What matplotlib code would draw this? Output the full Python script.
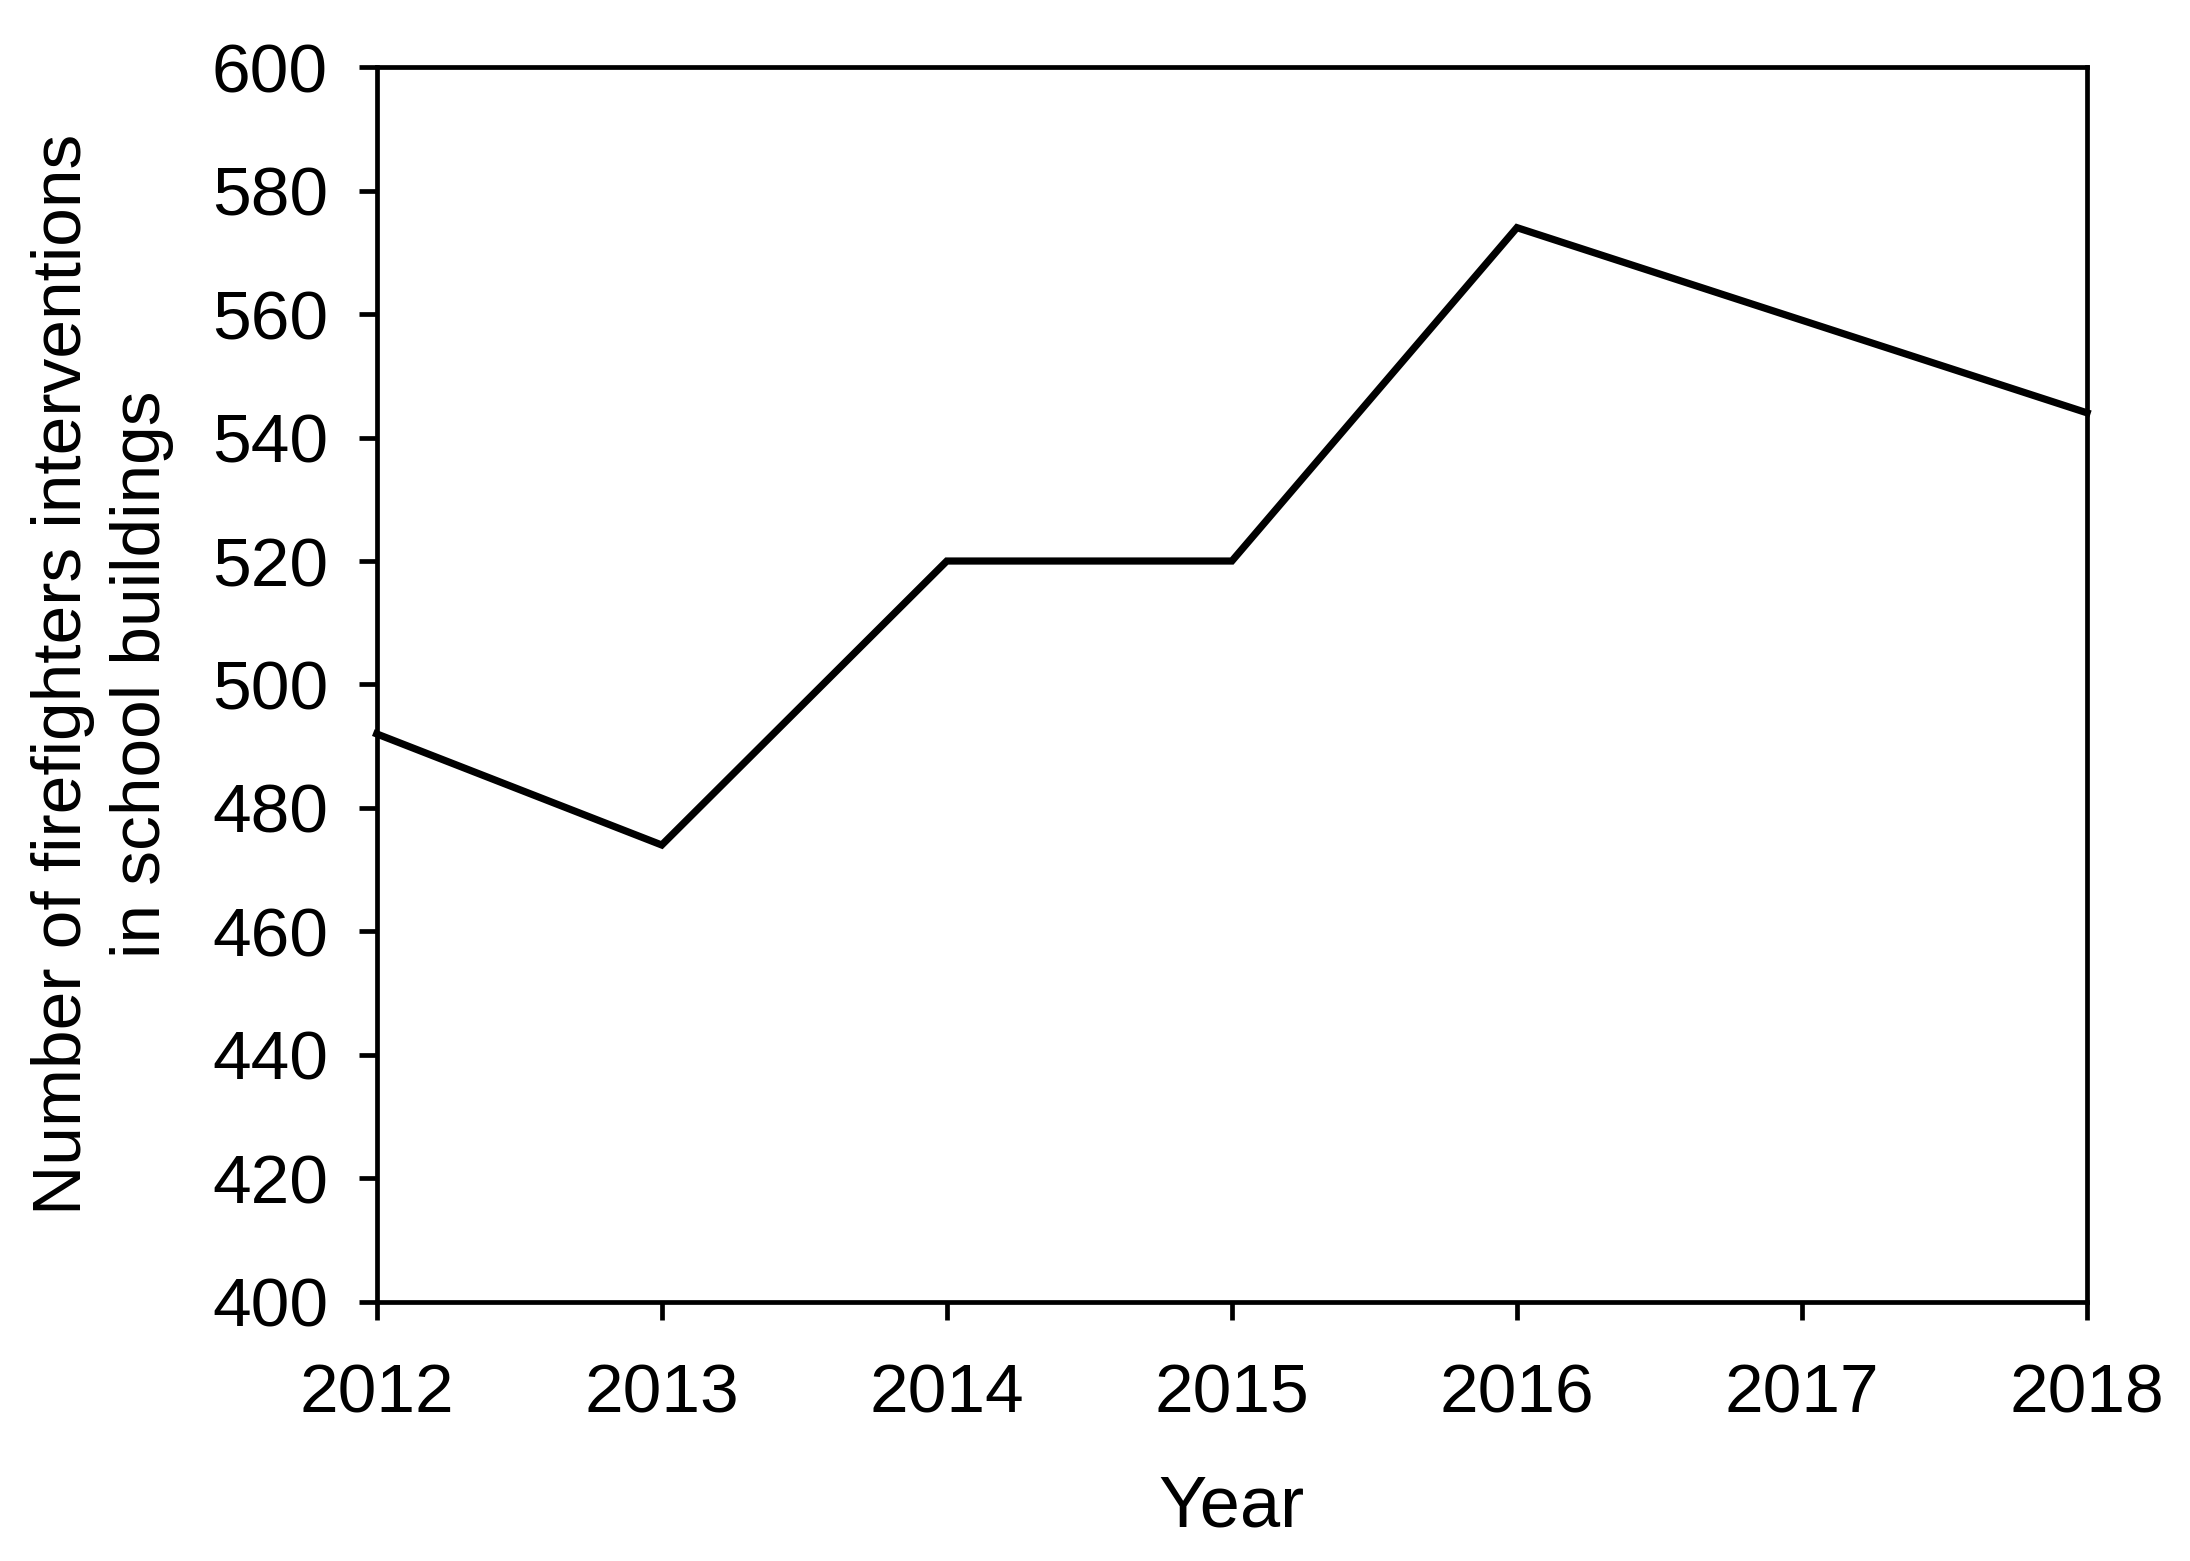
import matplotlib
matplotlib.use("Agg")
import matplotlib.pyplot as plt

years = [2012, 2013, 2014, 2015, 2016, 2017, 2018]
interventions = [492, 474, 520, 520, 574, 559, 544]
y_ticks = list(range(400, 601, 20))

plt.rcParams['font.family'] = ['Liberation Sans', 'DejaVu Sans']

fig = plt.figure(figsize=(21.9, 15.61), dpi=100)
ax = fig.add_axes([0.172, 0.166, 0.781, 0.791])

ax.plot(years, interventions, color='black', linewidth=5.2, clip_on=False,
        solid_joinstyle='miter')

ax.set_xlim(2012, 2018)
ax.set_ylim(400, 600)
ax.set_xticks(years)
ax.set_yticks(y_ticks)

for s in ax.spines.values():
    s.set_linewidth(3.4)
ax.tick_params(axis='both', direction='out', length=13, width=3.4, labelsize=50)
ax.tick_params(axis='y', pad=22)
ax.tick_params(axis='x', pad=31)

ax.set_xlabel("Year", fontsize=52, labelpad=34)
ax.set_ylabel("Number of firefighters interventions\nin school buildings",
              fontsize=50, labelpad=27, linespacing=1.3)
ax.yaxis.label.set_y(0.508)

fig.savefig("out.png", dpi=100)
